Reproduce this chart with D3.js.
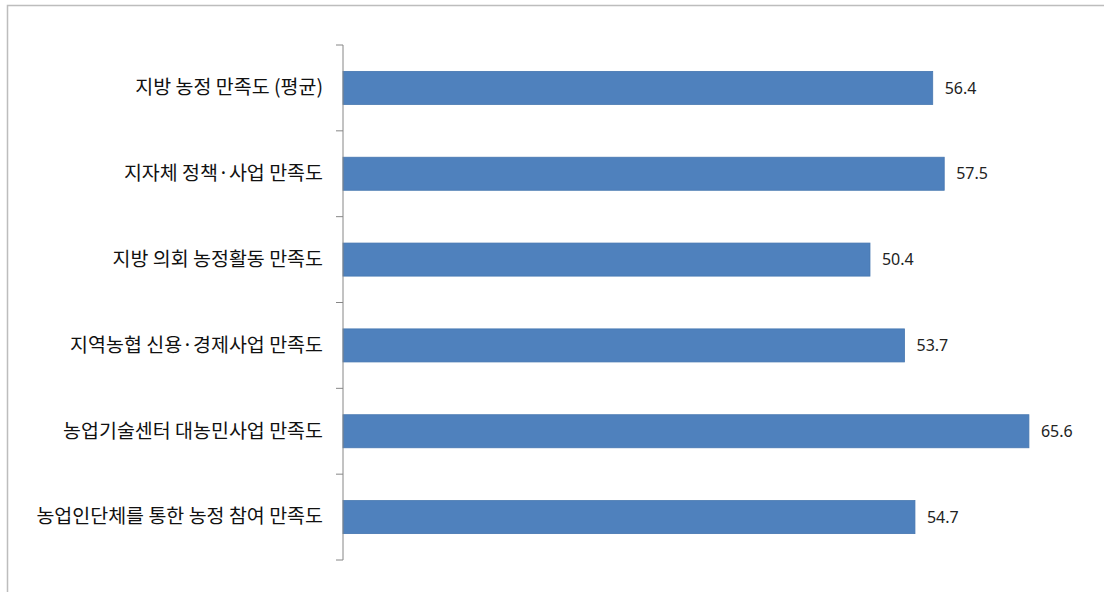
<!DOCTYPE html>
<html>
<head>
<meta charset="utf-8">
<script src="https://cdn.jsdelivr.net/npm/d3@7"></script>
<style>
  html, body { margin: 0; padding: 0; background: #fff; }
  svg { display: block; }
</style>
</head>
<body>
<svg id="chart" width="1104" height="592"></svg>
<script>
const categories = [
  "지방 농정 만족도 (평균)",
  "지자체 정책·사업 만족도",
  "지방 의회 농정활동 만족도",
  "지역농협 신용·경제사업 만족도",
  "농업기술센터 대농민사업 만족도",
  "농업인단체를 통한 농정 참여 만족도"
];
const values = [56.4, 57.5, 50.4, 53.7, 65.6, 54.7];
const valueLabels = ["56.4", "57.5", "50.4", "53.7", "65.6", "54.7"];

const svg = d3.select("#chart");

// outer frame (only left and top visible)
svg.append("rect")
  .attr("x", 7.5).attr("y", 5.5)
  .attr("width", 1200).attr("height", 700)
  .attr("fill", "#fff")
  .attr("stroke", "#bdbdbd").attr("stroke-width", 1.5);

const x0 = 343;
const x = d3.scaleLinear().domain([0, 70]).range([x0, x0 + 70 * 10.456]);
const y = d3.scaleBand().domain(categories).range([45, 560])
  .paddingInner(0.615).paddingOuter(0.3075);

// bars
svg.append("g").selectAll("rect").data(values).join("rect")
  .attr("x", x(0))
  .attr("y", (d, i) => y(categories[i]))
  .attr("width", d => x(d) - x(0))
  .attr("height", y.bandwidth())
  .attr("fill", "#4F81BD")
  .attr("stroke", "#4677b0").attr("stroke-width", 0.8);

// value labels
svg.append("g").selectAll("text").data(values).join("text")
  .attr("x", d => x(d) + 12)
  .attr("y", (d, i) => y(categories[i]) + y.bandwidth() / 2)
  .attr("dy", "0.35em")
  .attr("font-family", "'Noto Sans', 'DejaVu Sans', sans-serif")
  .attr("font-size", 16)
  .attr("fill", "#222")
  .text((d, i) => valueLabels[i]);

// category axis (labels)
const axis = d3.axisLeft(y).tickSize(0).tickPadding(20);
const ag = svg.append("g").attr("transform", `translate(${x0},0)`).call(axis);
ag.select(".domain").remove();
ag.selectAll("text")
  .attr("font-family", "'Noto Sans CJK KR', sans-serif")
  .attr("font-size", 19.5)
  .attr("fill", "#111");

// axis line and boundary tick marks
const step = y.step();
const tickYs = d3.range(categories.length + 1).map(i => y.range()[0] + i * step);
svg.append("line")
  .attr("x1", x0).attr("x2", x0)
  .attr("y1", tickYs[0]).attr("y2", tickYs[tickYs.length - 1])
  .attr("stroke", "#868686").attr("stroke-width", 1);
svg.append("g").selectAll("line").data(tickYs).join("line")
  .attr("x1", x0 - 7).attr("x2", x0)
  .attr("y1", d => d).attr("y2", d => d)
  .attr("stroke", "#868686").attr("stroke-width", 1);
</script>
</body>
</html>
